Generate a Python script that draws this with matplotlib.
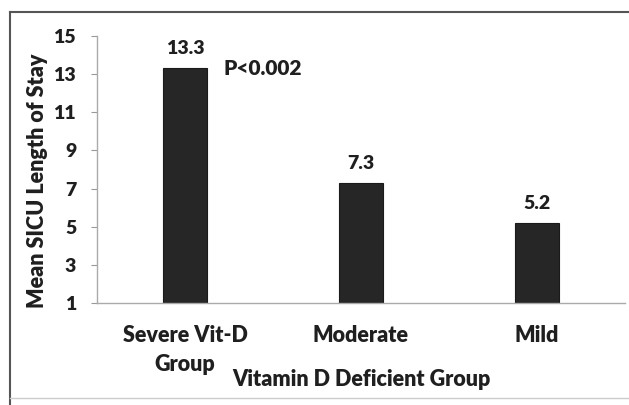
import matplotlib
matplotlib.use('Agg')
import matplotlib.pyplot as plt
from matplotlib.lines import Line2D

groups = ['Severe Vit-D\nGroup', 'Moderate', 'Mild']
mean_los = [13.3, 7.3, 5.2]
value_labels = ['13.3', '7.3', '5.2']
yticks = [1, 3, 5, 7, 9, 11, 13, 15]

plt.rcParams['font.family'] = ['Lato', 'DejaVu Sans']
wt = 'heavy'
ink = '#1f1f1f'

W, H = 629, 405
fig = plt.figure(figsize=(W/100, H/100), dpi=100)
ax = fig.add_axes([97/W, 1-303/H, (625-97)/W, (303-36)/H])

x = range(len(groups))
ax.bar(x, [v-1 for v in mean_los], bottom=1, width=0.25, color='#262626', edgecolor='#1a1a1a', linewidth=0.8)
ax.set_xlim(-0.5, 2.5)
ax.set_ylim(1, 15)
ax.set_yticks(yticks)
ax.set_yticklabels([str(t) for t in yticks], fontsize=14, fontweight=wt, color=ink)
ax.set_xticks(list(x))
ax.set_xticklabels(groups, fontsize=15.5, fontweight=wt, color=ink, linespacing=1.45)
ax.tick_params(axis='x', length=0, pad=16)
ax.tick_params(axis='y', length=4, width=0.8, color='#999999', pad=11)

for s in ['top', 'right']:
    ax.spines[s].set_visible(False)
ax.spines['left'].set_color('#aaaaaa')
ax.spines['bottom'].set_color('#aaaaaa')
ax.spines['left'].set_linewidth(1.0)
ax.spines['bottom'].set_linewidth(1.0)

for i, v in enumerate(mean_los):
    ax.annotate(value_labels[i], (i, v), xytext=(0, 8), textcoords='offset points',
                ha='center', va='bottom', fontsize=14, fontweight=wt, color=ink)

ax.text(0.22, 13.3, 'P<0.002', ha='left', va='center', fontsize=15, fontweight=wt, color=ink)

fig.text(361/W, 1-380/H, 'Vitamin D Deficient Group', ha='center', va='center',
         fontsize=15.5, fontweight=wt, color=ink)
fig.text(38/W, 1-181/H, 'Mean SICU Length of Stay', ha='center', va='center', rotation=90,
         fontsize=15.5, fontweight=wt, color=ink)

# outer frame from the scanned figure
fig.add_artist(Line2D([10/W, 10/W], [0, 1-12/H], transform=fig.transFigure, color='#555555', linewidth=1.5))
fig.add_artist(Line2D([10/W, 1], [1-12/H, 1-12/H], transform=fig.transFigure, color='#555555', linewidth=1.5))
fig.add_artist(Line2D([10/W, 1], [1-398/H, 1-398/H], transform=fig.transFigure, color='#cccccc', linewidth=1.0))

fig.savefig('out.png', dpi=100)
